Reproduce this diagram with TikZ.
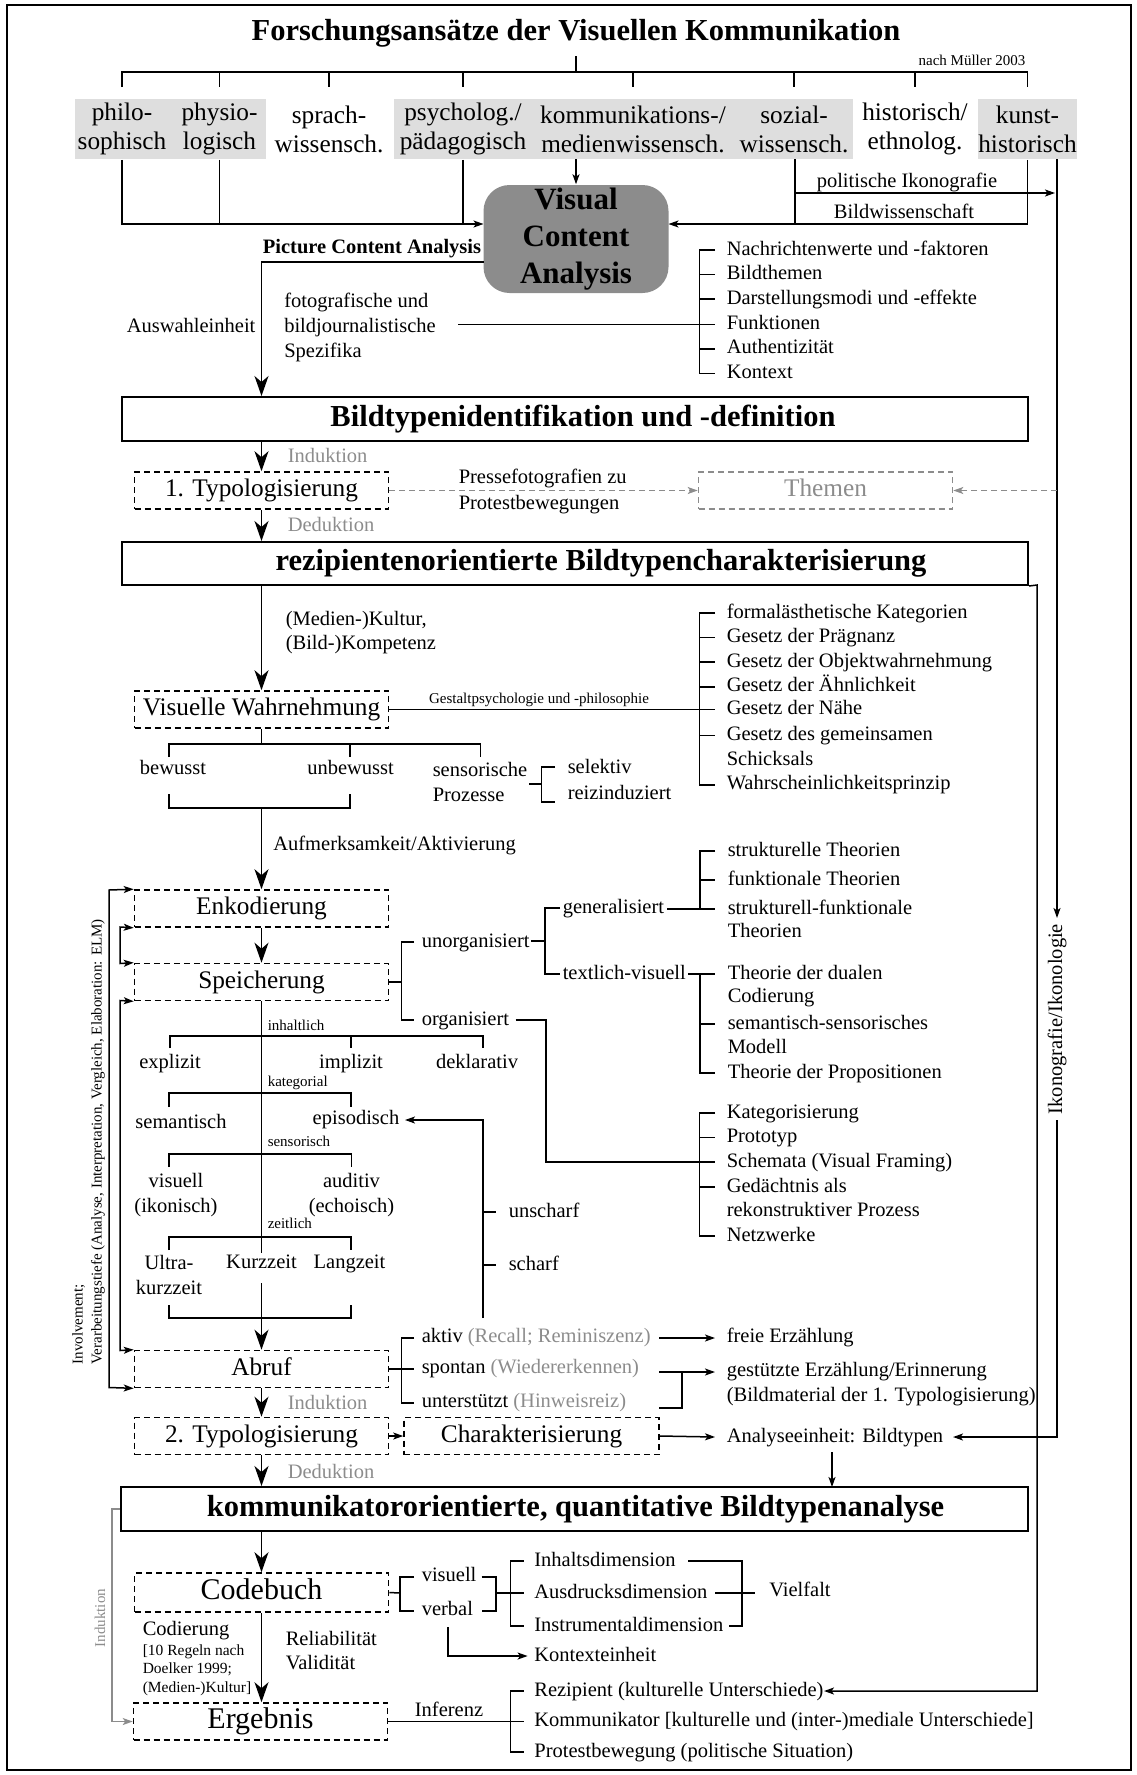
\documentclass[tikz,border=0pt]{standalone}
\usepackage{fontspec}
\setmainfont{Liberation Serif}
\usetikzlibrary{arrows.meta}
\definecolor{tg}{gray}{0.55}
\definecolor{boxg}{gray}{0.87}
\definecolor{vcag}{gray}{0.55}
\newcommand\zzB{\fontsize{20.5}{24.6}\selectfont}
\newcommand\zzBb{\fontsize{20.5}{25}\selectfont}
\newcommand\zzS{\fontsize{15}{18.5}\selectfont}
\newcommand\zzR{\fontsize{15}{19}\selectfont}
\newcommand\zzM{\fontsize{25.3}{29}\selectfont}
\newcommand\zzL{\fontsize{30}{36}\selectfont}
\newcommand\zzH{\bfseries\fontsize{30.5}{36}\selectfont}
\newcommand\zzV{\bfseries\fontsize{31}{37}\selectfont}
\newcommand\zzP{\bfseries\fontsize{20.5}{24.6}\selectfont}
\begin{document}
\begin{tikzpicture}[x=1pt,y=-1pt,line width=1.5pt,
  tx/.style={font=\zzB,inner sep=0pt,text height=14.5pt,text depth=4.5pt},
  txm/.style={font=\zzB,inner sep=0pt,align=left},
  sm/.style={font=\zzS,inner sep=0pt,text height=10.5pt,text depth=3.2pt},
  gt/.style={tx,text=tg},
  cat/.style={font=\zzM,inner sep=0pt,align=center,minimum height=60pt},
  hbox/.style={draw,line width=2pt,minimum width=906pt,minimum height=44pt,inner sep=0pt},
  htxt/.style={font=\zzH,inner sep=0pt,text height=21pt,text depth=6.5pt},
  dbox/.style={draw,line width=1.6pt,dash pattern=on 6pt off 4pt,minimum width=254pt,minimum height=37pt,inner sep=0pt,font=\zzM,text height=17.5pt,text depth=5.5pt},
  lbox/.style={dbox,font=\zzL,text height=21pt,text depth=6.5pt},
  barr/.style={-{Stealth[length=20pt,width=14pt,inset=6pt]}},
  sarr/.style={-{Stealth[length=10pt,width=7pt,inset=2.5pt]}},
  darr/.style={{Stealth[length=10pt,width=7pt,inset=2.5pt]}-{Stealth[length=10pt,width=7pt,inset=2.5pt]}},
  gdash/.style={draw=tg,line width=1.4pt,dash pattern=on 6pt off 4pt},
  gline/.style={draw=tg,line width=1.4pt}]
\useasboundingbox (0,0) rectangle (1136,1775);
\draw[line width=2pt] (7,5) rectangle (1131,1770);

% ---------- title and approaches
\node[htxt] (title) at (576,33) {Forschungsansätze der Visuellen Kommunikation};
\node[sm,anchor=east] (nach) at (1026,62) {nach Müller 2003};
\fill[boxg] (75,99) rectangle (266,159);
\fill[boxg] (394,99) rectangle (853,159);
\fill[boxg] (978,99) rectangle (1077,159);
\node[cat] (c1) at (122,129) {philo-\\sophisch};
\node[cat] (c2) at (219.5,129) {physio-\\logisch};
\node[cat] (c3) at (329,129) {sprach-\\wissensch.};
\node[cat] (c4) at (463,129) {psycholog./\\pädagogisch};
\node[cat] (c5) at (633,129) {kommunikations-/\\medienwissensch.};
\node[cat] (c6) at (794,129) {sozial-\\wissensch.};
\node[cat] (c7) at (915,129) {historisch/\\ethnolog.};
\node[cat] (c8) at (1027.5,129) {kunst-\\historisch};
\draw (122,87) -- (122,72) -- (1027.5,72) -- (1027.5,87);
\foreach \x in {219.5,329,463,633,794,915} \draw (\x,72) -- (\x,87);
\draw (576,72) -- (576,56);

% ---------- Visual Content Analysis
\node[fill=vcag,rounded corners=26pt,minimum width=185pt,minimum height=108pt,font=\zzV,align=center,inner sep=0pt] (vca) at (576,239) {Visual\\Content\\Analysis};
\draw[sarr] (c1.south) |- (483.5,224);
\draw (c2.south) -- (219.5,224);
\draw (c4.south) -- (463,224);
\draw[sarr] (576,159) -- (vca.north);
\draw (795,159) -- (795,224);
\draw[sarr] (795,193) -- (1055,193);
\draw[sarr] (c8.south) |- (668.5,224);
\draw[sarr] (1057,159) -- (1057,918);
\node[tx] (polit) at (907,182) {politische Ikonografie};
\node[tx] (bildw) at (904,213) {Bildwissenschaft};
\node[font=\zzP,inner sep=0pt,text height=14.5pt,text depth=4.5pt] (pca) at (372,248) {Picture Content Analysis};

% ---------- list 1
\node[tx,anchor=west] (ausw) at (126,327) {Auswahleinheit};
\node[txm,font=\zzBb,anchor=west] (foto) at (283.5,327) {fotografische und\\bildjournalistische\\Spezifika};
\node[tx,anchor=west] (l1a) at (726,250) {Nachrichtenwerte und -faktoren};
\node[tx,anchor=west] (l1b) at (726,274.6) {Bildthemen};
\node[tx,anchor=west] (l1c) at (726,299.2) {Darstellungsmodi und -effekte};
\node[tx,anchor=west] (l1d) at (726,324.4) {Funktionen};
\node[tx,anchor=west] (l1e) at (726,348.8) {Authentizität};
\node[tx,anchor=west] (l1f) at (726,373.4) {Kontext};
\draw (715,250) -- (699.5,250) -- (699.5,373.4) -- (715,373.4);
\foreach \n in {l1b,l1c,l1e} \draw ([xshift=-27pt]\n.west) -- ([xshift=-11pt]\n.west);
\draw (458,324.4) -- ([xshift=-11pt]l1d.west);

% ---------- Bildtypenidentifikation
\node[hbox] (bt1) at (575,419) {};
\node[htxt] (bt1t) at (583,419) {Bildtypenidentifikation und -definition};
\node[dbox] (typ1) at (261.5,490.5) {1. Typologisierung};
\draw[barr] (483.5,262) -- (261.5,262) -- (typ1.north |- bt1.north);
\draw[barr] (typ1.north |- bt1.south) -- (typ1.north);
\node[gt,anchor=west] (ind1) at (287,457) {Induktion};
\node[dbox,draw=tg,text=tg] (them) at (825.5,490.5) {Themen};
\draw[gdash,sarr] (typ1.east) -- (them.west);
\node[txm,anchor=west] (presse) at (458,491.5) {Pressefotografien zu\\[2pt]Protestbewegungen};
\draw[gdash,sarr] (1057,490.5) -- (them.east);

% ---------- rezipientenorientiert
\node[hbox,minimum height=43pt] (rz) at (575,563.5) {};
\node[htxt] (rzt) at (601,563.5) {rezipientenorientierte Bildtypencharakterisierung};
\draw[barr] (typ1.south) -- (typ1.south |- rz.north);
\node[gt,anchor=west] (ded1) at (287,526) {Deduktion};
\draw[sarr] (rz.south east) -- (1037,585) -- (1037,1691) -- (824,1691);

\node[dbox] (vw) at (261.5,709.5) {Visuelle Wahrnehmung};
\draw[barr] (vw.north |- rz.south) -- (vw.north);
\node[txm,anchor=west] (kult) at (285,632.5) {(Medien-)Kultur,\\(Bild-)Kompetenz};
\node[sm] (gest) at (539,700) {Gestaltpsychologie und -philosophie};

% ---------- list 2
\node[tx,anchor=west] (l2a) at (726,613) {formalästhetische Kategorien};
\node[tx,anchor=west] (l2b) at (726,637.6) {Gesetz der Prägnanz};
\node[tx,anchor=west] (l2c) at (726,662.2) {Gesetz der Objektwahrnehmung};
\node[tx,anchor=west] (l2d) at (726,686.8) {Gesetz der Ähnlichkeit};
\node[tx,anchor=west] (l2e) at (726,709.5) {Gesetz der Nähe};
\node[tx,anchor=west] (l2f) at (726,735.6) {Gesetz des gemeinsamen};
\node[tx,anchor=west] (l2g) at (726,760.2) {Schicksals};
\node[tx,anchor=west] (l2h) at (726,784.8) {Wahrscheinlichkeitsprinzip};
\draw (715,613) -- (699.5,613) -- (699.5,784.8) -- (715,784.8);
\foreach \n in {l2b,l2c,l2d,l2f} \draw ([xshift=-27pt]\n.west) -- ([xshift=-11pt]\n.west);
\draw (vw.east) -- ([xshift=-11pt]l2e.west);

% ---------- bewusst / unbewusst
\draw (vw.south) -- (261.5,744);
\draw (169,757) -- (169,744) -- (480.5,744) -- (480.5,757);
\draw (350,744) -- (350,757);
\node[tx] (bew) at (173,769) {bewusst};
\node[tx] (unbew) at (350.6,769) {unbewusst};
\node[txm,font=\zzBb,anchor=west] (senso) at (432,781.5) {sensorische\\Prozesse};
\draw (529,784) -- (541.6,784);
\draw (555,767) -- (541.6,767) -- (541.6,802) -- (555,802);
\node[tx,anchor=west] (selek) at (567,768) {selektiv};
\node[tx,anchor=west] (reiz) at (567,794) {reizinduziert};
\draw (169,794) -- (169,808) -- (350,808) -- (350,794);
\node[tx,anchor=west] (aufm) at (272.6,845) {Aufmerksamkeit/Aktivierung};

% ---------- Enkodierung / Speicherung
\node[dbox] (enk) at (261.5,908.5) {Enkodierung};
\node[dbox] (spei) at (261.5,982) {Speicherung};
\draw[barr] (261.5,808) -- (enk.north);
\draw[barr] (enk.south) -- (spei.north);

\node[sm,anchor=west] (inh) at (267,1027) {inhaltlich};
\draw (170,1048) -- (170,1036) -- (483,1036) -- (483,1048);
\draw (351,1036) -- (351,1048);
\node[tx] (expl) at (170,1063) {explizit};
\node[tx] (impl) at (351,1063) {implizit};
\node[tx] (dekl) at (477,1063) {deklarativ};
\node[sm,anchor=west] (kat) at (267,1083) {kategorial};
\draw (169,1107) -- (169,1093) -- (351,1093) -- (351,1107);
\node[tx] (sem) at (181,1123) {semantisch};
\node[tx] (epi) at (356,1119) {episodisch};
\node[sm,anchor=west] (sens) at (267,1143) {sensorisch};
\draw (169,1167) -- (169,1154) -- (351.5,1154) -- (351.5,1167);
\node[txm,align=center] (visu) at (176,1195) {visuell\\(ikonisch)};
\node[txm,align=center] (audi) at (351.5,1195) {auditiv\\(echoisch)};
\node[sm,anchor=west] (zeit) at (267,1225) {zeitlich};
\draw (169,1250) -- (169,1237) -- (351,1237) -- (351,1250);
\node[txm,align=center] (ultra) at (169,1275) {Ultra-\\kurzzeit};
\node[tx] (kurz) at (261.5,1263) {Kurzzeit};
\node[tx] (lang) at (349.5,1263) {Langzeit};
\draw (169,1305) -- (169,1318) -- (351,1318) -- (351,1305);
\draw (spei.south) -- (kurz.north);

\draw[sarr] (483,1318) -- (483,1120) -- (405,1120);
\draw (483,1212) -- (496,1212);
\draw (483,1265) -- (496,1265);
\node[tx,anchor=west] (unsch) at (508,1212) {unscharf};
\node[tx,anchor=west] (scharf) at (508,1265) {scharf};

% speicherung right side
\draw (spei.east) -- (401.7,982);
\draw (414,942) -- (401.7,942) -- (401.7,1020) -- (414,1020);
\node[tx,anchor=west] (unorg) at (421,942) {unorganisiert};
\node[tx,anchor=west] (org) at (421,1020) {organisiert};
\draw (531,941) -- (545,941);
\draw (560,908) -- (545,908) -- (545,974) -- (560,974);
\node[tx,anchor=west] (gen) at (562,908) {generalisiert};
\node[tx,anchor=west] (tv) at (562,974) {textlich-visuell};

\node[tx,anchor=west] (s1) at (727,851) {strukturelle Theorien};
\node[tx,anchor=west] (s2) at (727,880) {funktionale Theorien};
\node[tx,anchor=west] (s3) at (727,909) {strukturell-funktionale};
\node[tx,anchor=west] (s4) at (727,932) {Theorien};
\draw (667,909) -- (715,909);
\draw (715,851) -- (700,851) -- (700,909);
\draw (700,880) -- (715,880);

\node[tx,anchor=west] (d1) at (727,974) {Theorie der dualen};
\node[tx,anchor=west] (d2) at (727,997.5) {Codierung};
\node[tx,anchor=west] (d3) at (727,1024) {semantisch-sensorisches};
\node[tx,anchor=west] (d4) at (727,1048) {Modell};
\node[tx,anchor=west] (d5) at (727,1073) {Theorie der Propositionen};
\draw (688,974) -- (715,974);
\draw (700,974) -- (700,1073) -- (715,1073);
\draw (700,1024) -- (715,1024);

\node[tx,anchor=west] (k1) at (726,1113) {Kategorisierung};
\node[tx,anchor=west] (k2) at (726,1137.5) {Prototyp};
\node[tx,anchor=west] (k3) at (726,1162) {Schemata (Visual Framing)};
\node[tx,anchor=west] (k4) at (726,1187) {Gedächtnis als};
\node[tx,anchor=west] (k5) at (726,1211.5) {rekonstruktiver Prozess};
\node[tx,anchor=west] (k6) at (726,1236) {Netzwerke};
\draw (515.5,1020) -- (546,1020) -- (546,1162) -- ([xshift=-11pt]k3.west);
\draw (715,1113) -- (699.5,1113) -- (699.5,1236) -- (715,1236);
\draw (699.5,1137.5) -- (715,1137.5);
\draw (699.5,1187) -- (715,1187);

% ---------- Abruf
\node[dbox] (abruf) at (261.5,1369) {Abruf};
\draw[barr] (261.5,1283) -- (abruf.north);
\draw[darr] (enk.north west) -- (109,890) -- (109,1387.5) -- (abruf.south west);
\draw[darr] (enk.south west) -- (120,927) -- (120,963.5) -- (spei.north west);
\draw[darr] (spei.south west) -- (120,1000.5) -- (120,1350.5) -- (abruf.north west);
\node[font=\zzR,rotate=90,anchor=west,align=left,inner sep=0pt] (invl) at (88.5,1365) {Involvement;\\Verarbeitungstiefe (Analyse, Interpretation, Vergleich, Elaboration: ELM)};

\draw (abruf.east) -- (401.7,1369);
\draw (414,1338) -- (401.7,1338) -- (401.7,1403) -- (414,1403);
\draw (401.7,1369) -- (414,1369);
\node[tx,anchor=west] (aktiv) at (421,1337) {aktiv \textcolor{tg}{(Recall; Reminiszenz)}};
\node[tx,anchor=west] (spont) at (421,1368) {spontan \textcolor{tg}{(Wiedererkennen)}};
\node[tx,anchor=west] (unter) at (421,1402) {unterstützt \textcolor{tg}{(Hinweisreiz)}};
\node[tx,anchor=west] (freie) at (726,1337) {freie Erzählung};
\node[txm,anchor=west] (gest2) at (726,1384) {gestützte Erzählung/Erinnerung\\(Bildmaterial der 1. Typologisierung)};
\draw[sarr] (659,1338) -- (715,1338);
\draw (659,1408) -- (682,1408) -- (682,1372);
\draw (659,1372) -- (682,1372);
\draw[sarr] (682,1372) -- (715,1372);

% ---------- 2. Typologisierung
\node[dbox] (typ2) at (261.5,1436) {2. Typologisierung};
\node[dbox,minimum width=255pt] (char) at (531.5,1436) {Charakterisierung};
\draw[barr] (abruf.south) -- (typ2.north);
\node[gt,anchor=west] (ind2) at (287,1404) {Induktion};
\draw[sarr] (typ2.east) -- (char.west);
\node[tx,anchor=west] (ana) at (726,1437) {Analyseeinheit: Bildtypen};
\draw[sarr] (char.east) -- ([xshift=-11pt]ana.west);
\node[tx,rotate=90] (ikon) at (1057,1019) {Ikonografie/Ikonologie};
\draw[sarr] (1057,1120) -- (1057,1437) -- (953,1437);

% ---------- kommunikatororientiert
\node[hbox,minimum width=907pt] (komm) at (574.5,1509) {};
\node[htxt] (kommt) at (575.5,1509) {kommunikatororientierte, quantitative Bildtypenanalyse};
\draw[barr] (typ2.south) -- (typ2.south |- komm.north);
\node[gt,anchor=west] (ded2) at (287,1473) {Deduktion};
\draw[sarr] (832,1452) -- (832,1487);

\node[lbox,minimum height=39pt] (cb) at (261.5,1592.5) {Codebuch};
\node[lbox] (erg) at (260.5,1721.5) {Ergebnis};
\draw[barr] (cb.north |- komm.south) -- (cb.north);
\draw[barr] (cb.south) -- (cb.south |- erg.north);
\draw[gline,sarr] (komm.west) -- (112,1509) -- (112,1721.5) -- (erg.west);
\node[font=\zzS,text=tg,rotate=90,inner sep=0pt] (indrot) at (100,1618) {Induktion};

\node[tx,anchor=west] (codier) at (142,1630) {Codierung};
\node[font=\fontsize{15.5}{18.5}\selectfont,inner sep=0pt,align=left,anchor=west] (regeln) at (142,1670) {[10 Regeln nach\\Doelker 1999;\\(Medien-)Kultur]};
\node[txm,anchor=west] (relia) at (285,1650.5) {Reliabilität\\Validität};

\draw (cb.east) -- (400,1593);
\draw (414,1577) -- (400,1577) -- (400,1611) -- (414,1611);
\node[tx,anchor=west] (visl) at (421,1576) {visuell};
\node[tx,anchor=west] (verb) at (421,1610) {verbal};
\draw (481.6,1577) -- (496,1577) -- (496,1611) -- (481.6,1611);
\draw (496,1593) -- (523.5,1593);
\draw (523.5,1561) -- (510.7,1561) -- (510.7,1626) -- (523.5,1626);
\node[tx,anchor=west] (dim1) at (533.6,1561) {Inhaltsdimension};
\node[tx,anchor=west] (dim2) at (533.6,1593) {Ausdrucksdimension};
\node[tx,anchor=west] (dim3) at (533.6,1626) {Instrumentaldimension};
\draw (688,1561) -- (742,1561) -- (742,1626) -- (729,1626);
\draw (715,1593) -- (755,1593);
\node[tx,anchor=west] (vielf) at (768.5,1591) {Vielfalt};
\node[tx,anchor=west] (kont) at (533.6,1656) {Kontexteinheit};
\draw[sarr] (448,1627) -- (448,1656) -- ([xshift=-6pt]kont.west);

\draw (erg.east) -- (523.5,1721.5);
\node[tx] (infer) at (449,1711) {Inferenz};
\draw (523.5,1691) -- (510.7,1691) -- (510.7,1752) -- (523.5,1752);
\node[tx,anchor=west] (rezi) at (533.6,1691) {Rezipient (kulturelle Unterschiede)};
\node[tx,anchor=west] (kommu) at (533.6,1721.5) {Kommunikator [kulturelle und (inter-)mediale Unterschiede]};
\node[tx,anchor=west] (prot) at (533.6,1752) {Protestbewegung (politische Situation)};
\end{tikzpicture}
\end{document}
